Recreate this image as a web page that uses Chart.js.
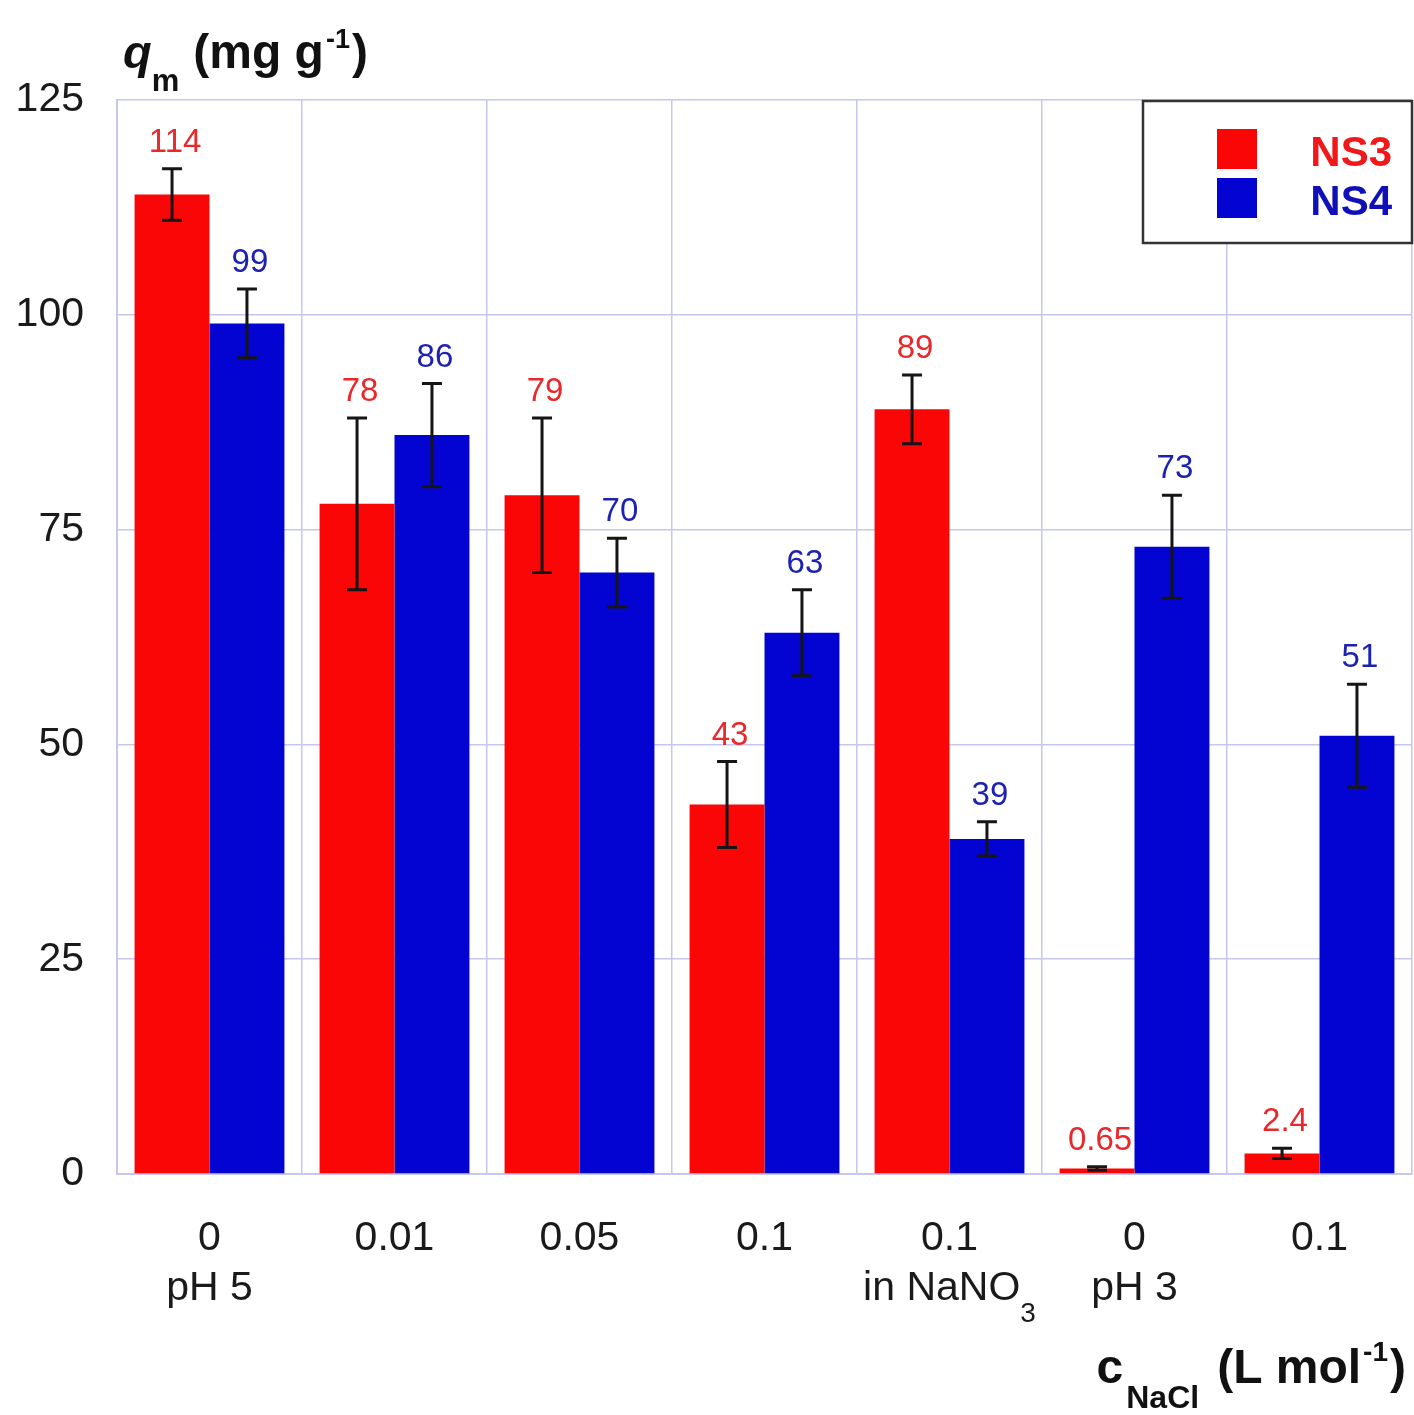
<!DOCTYPE html>
<html lang="en">
<head>
    <meta charset="UTF-8">
    <title>qm vs NaCl concentration</title>
    <script src="https://cdn.jsdelivr.net/npm/chart.js"></script>
    <style>
        body {
            margin: 0;
            background: #ffffff;
        }
        .chart-container {
            width: 1414px;
            height: 1415px;
        }
    </style>
</head>
<body>
    <div class="chart-container">
        <canvas id="qmChart"></canvas>
    </div>

    <script>
        // NaCl concentration per group, with the condition written below it
        const concentrations = ['0', '0.01', '0.05', '0.1', '0.1', '0', '0.1'];
        const conditions = ['pH 5', '', '', '', 'in NaNO', 'pH 3', ''];
        const conditionSubs = ['', '', '', '', '3', '', ''];

        const ns3Values = [114, 78, 79, 43, 89, 0.65, 2.4];
        const ns3Errors = [3, 10, 9, 5, 4, 0.2, 0.6];
        const ns4Values = [99, 86, 70, 63, 39, 73, 51];
        const ns4Errors = [4, 6, 4, 5, 2, 6, 6];

        const yTicks = [0, 25, 50, 75, 100, 125];

        const FONT = '"Liberation Sans", Arial, Helvetica, sans-serif';
        const RED = '#fb0606';
        const BLUE = '#0404d2';
        const RED_TEXT = '#e8282a';
        const BLUE_TEXT = '#1e22b0';
        const GRID = '#c6c6ee';

        // draws a run of text pieces (with sub/superscripts) on one baseline
        function drawRich(ctx, parts, x, y, align) {
            ctx.save();
            ctx.textBaseline = 'alphabetic';
            ctx.textAlign = 'left';
            let total = 0;
            parts.forEach(p => {
                ctx.font = p.font;
                p.w = ctx.measureText(p.text).width + (p.gap || 0);
                total += p.w;
            });
            let cx = x;
            if (align === 'center') cx = x - total / 2;
            if (align === 'right') cx = x - total;
            parts.forEach(p => {
                ctx.font = p.font;
                ctx.fillStyle = p.color || '#111';
                ctx.fillText(p.text, cx, y + (p.dy || 0));
                cx += p.w;
            });
            ctx.restore();
        }

        const errorBars = {
            id: 'errorBars',
            afterDatasetsDraw(chart) {
                const ctx = chart.ctx;
                const yScale = chart.scales.y;
                const sets = [
                    { vals: ns3Values, errs: ns3Errors, color: RED_TEXT },
                    { vals: ns4Values, errs: ns4Errors, color: BLUE_TEXT }
                ];
                sets.forEach((s, di) => {
                    const meta = chart.getDatasetMeta(di);
                    meta.data.forEach((bar, i) => {
                        const x = bar.x;
                        const top = yScale.getPixelForValue(s.vals[i] + s.errs[i]);
                        const bot = yScale.getPixelForValue(s.vals[i] - s.errs[i]);
                        ctx.save();
                        ctx.strokeStyle = '#151515';
                        ctx.lineWidth = 3;
                        ctx.beginPath();
                        ctx.moveTo(x, top);
                        ctx.lineTo(x, bot);
                        ctx.moveTo(x - 10, top);
                        ctx.lineTo(x + 10, top);
                        ctx.moveTo(x - 10, bot);
                        ctx.lineTo(x + 10, bot);
                        ctx.stroke();

                        ctx.font = '33px ' + FONT;
                        ctx.fillStyle = s.color;
                        ctx.textAlign = 'center';
                        ctx.textBaseline = 'alphabetic';
                        ctx.fillText(String(s.vals[i]), x + 3, top - 17);
                        ctx.restore();
                    });
                });
            }
        };

        const decorations = {
            id: 'decorations',
            afterDraw(chart) {
                const ctx = chart.ctx;
                const area = chart.chartArea;
                const xScale = chart.scales.x;

                // category labels, two lines
                concentrations.forEach((c, i) => {
                    const x = xScale.getPixelForValue(i);
                    drawRich(ctx, [{ text: c, font: '41px ' + FONT, color: '#1a1a1a' }], x, area.bottom + 76, 'center');
                    if (conditions[i]) {
                        const parts = [{ text: conditions[i], font: '41px ' + FONT, color: '#1a1a1a' }];
                        if (conditionSubs[i]) {
                            parts.push({ text: conditionSubs[i], font: '28px ' + FONT, color: '#1a1a1a', dy: 22 });
                        }
                        drawRich(ctx, parts, x, area.bottom + 126, 'center');
                    }
                });

                // y axis title
                drawRich(ctx, [
                    { text: 'q', font: 'italic bold 47px ' + FONT },
                    { text: 'm', font: 'bold 31px ' + FONT, dy: 23, gap: 14 },
                    { text: '(mg g', font: 'bold 48px ' + FONT, gap: 2 },
                    { text: '-1', font: 'bold 27px ' + FONT, dy: -20, gap: 2 },
                    { text: ')', font: 'bold 48px ' + FONT }
                ], area.left + 6, area.top - 32, 'left');

                // x axis title
                drawRich(ctx, [
                    { text: 'c', font: 'bold 48px ' + FONT, gap: 3 },
                    { text: 'NaCl', font: 'bold 32px ' + FONT, dy: 25, gap: 18 },
                    { text: '(L mol', font: 'bold 48px ' + FONT, gap: 2 },
                    { text: '-1', font: 'bold 28px ' + FONT, dy: -22, gap: 2 },
                    { text: ')', font: 'bold 48px ' + FONT }
                ], area.right - 6, area.bottom + 209, 'right');

                // legend box in the top right corner
                const bx = area.left + 1026, by = area.top + 1;
                const bw = area.right - bx, bh = 142;
                ctx.save();
                ctx.fillStyle = '#ffffff';
                ctx.fillRect(bx, by, bw, bh);
                ctx.strokeStyle = '#333333';
                ctx.lineWidth = 2.5;
                ctx.strokeRect(bx, by, bw, bh);
                chart.data.datasets.forEach((ds, i) => {
                    const sy = by + 28 + i * 49;
                    ctx.fillStyle = ds.backgroundColor;
                    ctx.fillRect(bx + 74, sy, 40, 40);
                    ctx.fillStyle = i === 0 ? '#f01818' : '#1010b8';
                    ctx.font = 'bold 42px ' + FONT;
                    ctx.textAlign = 'right';
                    ctx.textBaseline = 'alphabetic';
                    ctx.fillText(ds.label, bx + bw - 20, sy + 37);
                });
                ctx.restore();
            }
        };

        const ctx = document.getElementById('qmChart').getContext('2d');
        new Chart(ctx, {
            type: 'bar',
            data: {
                labels: concentrations.map((c, i) => [c, conditions[i]]),
                datasets: [{
                    label: 'NS3',
                    data: ns3Values,
                    backgroundColor: RED,
                    borderWidth: 0,
                    barPercentage: 1.0,
                    categoryPercentage: 0.81
                }, {
                    label: 'NS4',
                    data: ns4Values,
                    backgroundColor: BLUE,
                    borderWidth: 0,
                    barPercentage: 1.0,
                    categoryPercentage: 0.81
                }]
            },
            options: {
                responsive: true,
                maintainAspectRatio: false,
                animation: false,
                layout: {
                    padding: { top: 100, right: 2, left: 0, bottom: 0 }
                },
                plugins: {
                    legend: { display: false },
                    tooltip: { enabled: false }
                },
                scales: {
                    x: {
                        grid: {
                            color: GRID,
                            lineWidth: 1.5,
                            drawTicks: false,
                            offset: true
                        },
                        border: { color: GRID, width: 2 },
                        ticks: { display: false },
                        afterFit(scale) { scale.height = 241; }
                    },
                    y: {
                        min: 0,
                        max: 125,
                        grid: {
                            color: GRID,
                            lineWidth: 1.5,
                            drawTicks: false
                        },
                        border: { color: GRID, width: 2 },
                        afterBuildTicks(scale) {
                            scale.ticks = yTicks.map(v => ({ value: v }));
                        },
                        ticks: {
                            padding: 33,
                            color: '#1a1a1a',
                            font: { family: FONT, size: 41 }
                        },
                        afterFit(scale) { scale.width = 117; }
                    }
                }
            },
            plugins: [errorBars, decorations]
        });
    </script>
</body>
</html>
